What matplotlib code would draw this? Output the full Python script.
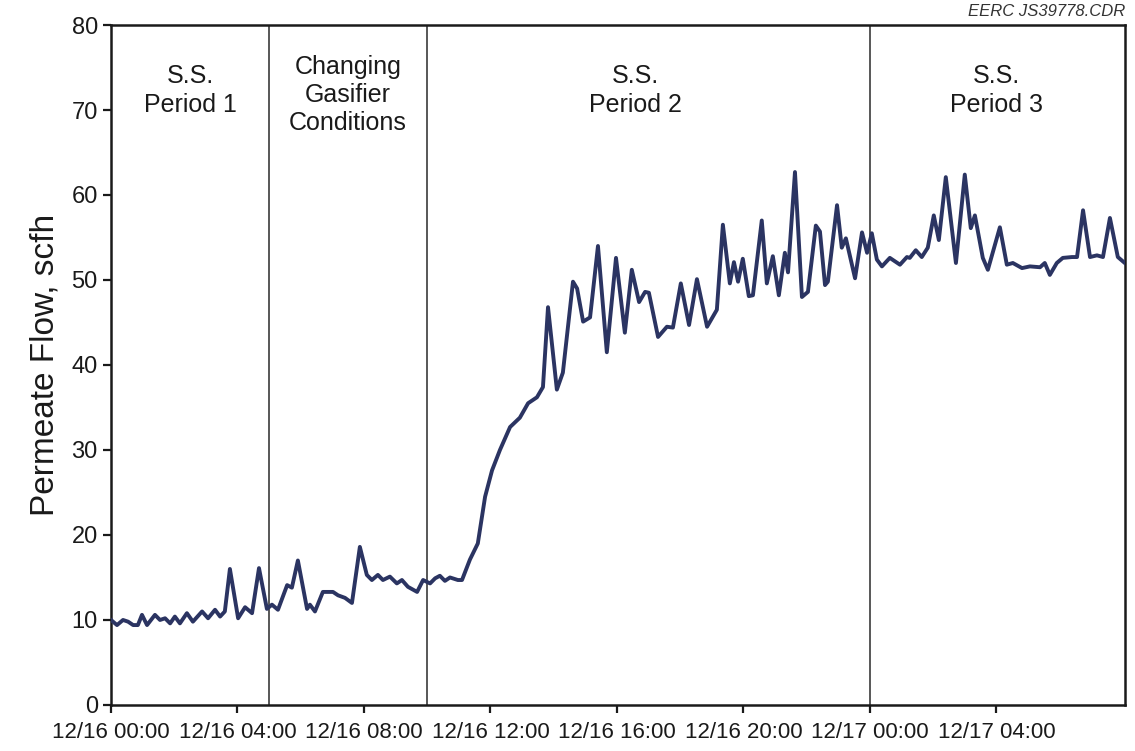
import matplotlib
matplotlib.use("Agg")
import matplotlib.pyplot as plt

plt.rcParams['font.family'] = ['Liberation Sans', 'DejaVu Sans']

# time in hours since 12/16 00:00
hours = [0.0, 0.19, 0.38, 0.54, 0.70, 0.85, 0.98, 1.14, 1.39, 1.55, 1.71, 1.87, 2.02, 2.18,
         2.40, 2.59, 2.88, 3.07, 3.29, 3.45, 3.60, 3.76, 4.02, 4.24, 4.46, 4.68, 4.93, 5.09,
         5.28, 5.57, 5.72, 5.91, 6.20, 6.29, 6.45, 6.70, 7.02, 7.18, 7.40, 7.62, 7.87, 8.09,
         8.25, 8.44, 8.60, 8.82, 9.04, 9.20, 9.39, 9.68, 9.87, 10.09, 10.25, 10.40, 10.56,
         10.72, 10.97, 11.10, 11.35, 11.60, 11.83, 12.05, 12.30, 12.62, 12.93, 13.19, 13.47,
         13.66, 13.82, 14.10, 14.29, 14.61, 14.74, 14.93, 15.15, 15.40, 15.68, 15.97, 16.25,
         16.47, 16.70, 16.89, 17.01, 17.30, 17.58, 17.77, 18.02, 18.28, 18.53, 18.85, 19.16,
         19.35, 19.57, 19.70, 19.83, 19.98, 20.17, 20.30, 20.58, 20.74, 20.93, 21.12, 21.31,
         21.41, 21.63, 21.85, 22.04, 22.29, 22.42, 22.58, 22.67, 22.96, 23.11, 23.24, 23.53,
         23.75, 23.91, 24.06, 24.22, 24.38, 24.63, 24.95, 25.17, 25.26, 25.45, 25.64, 25.83,
         26.02, 26.18, 26.40, 26.72, 27.00, 27.19, 27.32, 27.57, 27.73, 28.11, 28.33, 28.52,
         28.81, 29.06, 29.38, 29.53, 29.69, 29.91, 30.10, 30.39, 30.55, 30.74, 30.96, 31.18,
         31.37, 31.59, 31.84, 32.06]
flow = [10.0, 9.4, 10.0, 9.8, 9.4, 9.4, 10.6, 9.4, 10.6, 10.0, 10.2, 9.6, 10.4, 9.6,
        10.8, 9.8, 11.0, 10.2, 11.2, 10.4, 11.0, 16.0, 10.2, 11.5, 10.8, 16.1, 11.3, 11.8,
        11.2, 14.1, 13.8, 17.0, 11.3, 11.8, 11.0, 13.3, 13.3, 12.9, 12.6, 12.0, 18.6, 15.3,
        14.7, 15.3, 14.7, 15.1, 14.3, 14.7, 13.9, 13.3, 14.7, 14.3, 14.9, 15.2, 14.6,
        15.0, 14.7, 14.7, 17.1, 19.0, 24.5, 27.6, 30.0, 32.7, 33.8, 35.5, 36.2,
        37.4, 46.8, 37.1, 39.1, 49.8, 49.0, 45.1, 45.6, 54.0, 41.5, 52.6, 43.8,
        51.2, 47.4, 48.6, 48.5, 43.3, 44.5, 44.4, 49.6, 44.7, 50.1, 44.5, 46.5,
        56.5, 49.6, 52.1, 49.8, 52.5, 48.1, 48.2, 57.0, 49.6, 52.8, 48.2, 53.2,
        50.9, 62.7, 48.0, 48.6, 56.4, 55.7, 49.4, 49.8, 58.8, 53.8, 54.9, 50.2,
        55.6, 53.2, 55.5, 52.4, 51.6, 52.6, 51.8, 52.7, 52.6, 53.5, 52.7, 53.8,
        57.6, 54.7, 62.1, 52.0, 62.4, 56.1, 57.6, 52.6, 51.2, 56.2, 51.8, 52.0,
        51.4, 51.6, 51.5, 52.0, 50.6, 52.0, 52.6, 52.7, 52.7, 58.2, 52.7, 52.9,
        52.7, 57.3, 52.7, 52.0]

tick_hours = [0, 4, 8, 12, 16, 20, 24, 28]
tick_labels = ["12/16 00:00", "12/16 04:00", "12/16 08:00", "12/16 12:00",
               "12/16 16:00", "12/16 20:00", "12/17 00:00", "12/17 04:00"]
period_bounds = [5, 10, 24]
period_text = ["S.S.\nPeriod 1", "Changing\nGasifier\nConditions", "S.S.\nPeriod 2", "S.S.\nPeriod 3"]
period_text_x = [2.5, 7.5, 16.6, 28.0]
period_text_y = [72.3, 71.8, 72.3, 72.3]

fig = plt.figure(figsize=(11.35, 7.51), dpi=100)
ax = fig.add_axes([0.0978, 0.0613, 0.8932, 0.9054])

for b in period_bounds:
    ax.axvline(b, color='#4a4a4a', lw=1.3, zorder=1)

ax.plot(hours, flow, color='#2b3462', lw=2.8, zorder=3, solid_joinstyle='round')

for tx, ty, t in zip(period_text_x, period_text_y, period_text):
    ax.text(tx, ty, t, ha='center', va='center', fontsize=18, color='#1a1a1a', linespacing=1.22)

ax.set_xlim(0, 32.06)
ax.set_ylim(0, 80)
ax.set_yticks(range(0, 81, 10))
ax.set_xticks(tick_hours)
ax.set_xticklabels(tick_labels)
ax.tick_params(axis='both', direction='out', length=6, width=1.6, colors='#1a1a1a')
ax.tick_params(axis='y', labelsize=17)
ax.tick_params(axis='x', labelsize=16, pad=6)
for s in ax.spines.values():
    s.set_linewidth(1.8)
    s.set_color('#1a1a1a')

ax.set_ylabel("Permeate Flow, scfh", fontsize=24, color='#1a1a1a', labelpad=8)

fig.text(0.991, 0.995, "EERC JS39778.CDR", ha='right', va='top', fontsize=12,
         style='italic', color='#333333')

fig.savefig("out.png", dpi=100)
